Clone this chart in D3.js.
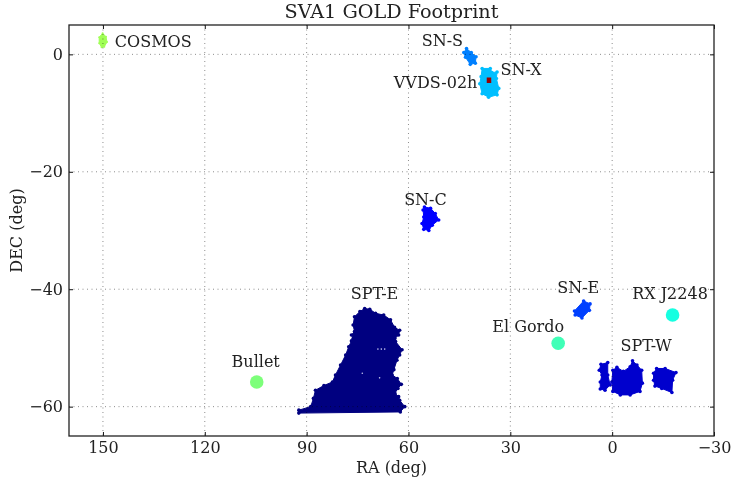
<!DOCTYPE html>
<html>
<head>
<meta charset="utf-8">
<script src="https://cdn.jsdelivr.net/npm/d3@7"></script>
<style>
html, body { margin: 0; padding: 0; background: #fff; }
svg { display: block; filter: blur(0.5px); }
text { font-family: "DejaVu Serif", serif; fill: #222; }
</style>
</head>
<body>
<script>
// field outlines, [RA, DEC] in degrees
const SPT_E = [[92.3,-60.6],[88.8,-60.0],[88.0,-58.6],[87.4,-57.2],[84.9,-56.4],[82.4,-55.8],[81.5,-54.6],[80.0,-52.9],[78.5,-51.2],[77.6,-49.8],[76.8,-48.8],[76.3,-48.4],[76.8,-47.8],[75.9,-47.2],[76.3,-46.1],[75.9,-44.7],[74.3,-43.8],[72.9,-43.3],[71.4,-43.4],[69.7,-44.1],[67.3,-44.4],[65.3,-45.2],[64.1,-46.5],[62.6,-47.0],[62.9,-47.8],[64.0,-48.4],[63.8,-48.9],[61.9,-50.3],[62.6,-51.2],[63.4,-52.1],[64.3,-53.7],[64.8,-54.6],[63.3,-55.2],[62.1,-56.2],[63.1,-56.9],[64.0,-57.7],[62.9,-58.3],[62.6,-58.9],[61.1,-60.0],[62.4,-60.9],[92.3,-61.1]];
const SPT_E_HOLES = [[69.0,-50.2],[68.0,-50.2],[67.0,-50.2],[73.6,-54.3],[68.5,-55.1]];
const SPT_W_A = [[3.8,-53.8],[3.3,-52.8],[1.3,-52.5],[1.3,-54.6],[0.6,-56.3],[2.1,-57.2],[3.5,-57.0],[3.5,-55.8],[3.0,-54.6]];
const SPT_W_B = [[-0.2,-53.8],[-1.4,-53.3],[-3.3,-54.0],[-5.3,-53.2],[-6.0,-52.2],[-7.3,-52.9],[-8.7,-53.8],[-8.9,-56.0],[-8.2,-57.4],[-5.3,-58.0],[-2.4,-58.0],[-0.2,-57.4],[0.1,-55.8]];
const SPT_W_C = [[-12.2,-54.3],[-13.1,-53.5],[-15.6,-53.5],[-18.8,-54.2],[-17.8,-55.5],[-17.6,-57.6],[-14.6,-56.9],[-12.6,-56.5],[-12.2,-55.5]];
const SN_C = [[55.3,-26.0],[53.5,-26.2],[52.1,-27.1],[51.1,-28.2],[53.0,-29.1],[54.0,-30.0],[55.5,-29.8],[56.0,-28.8],[55.5,-27.7],[55.7,-26.5]];
const SN_E = [[8.4,-42.0],[6.5,-42.5],[6.7,-43.6],[8.9,-44.9],[10.9,-44.4],[11.1,-43.7]];
const SN_S = [[42.9,1.0],[41.5,0.3],[40.1,-0.4],[40.3,-1.5],[41.8,-1.7],[43.2,-0.5],[43.7,0.3]];
const SN_X = [[38.3,-2.4],[35.9,-2.4],[35.4,-3.1],[33.9,-3.0],[34.1,-4.1],[33.4,-5.8],[33.9,-6.9],[36.4,-7.3],[38.3,-6.7],[39.0,-5.0],[38.6,-3.8]];
const COSMOS = [[150.1,3.6],[149.1,3.0],[148.8,2.1],[149.6,1.3],[150.4,1.2],[151.1,1.9],[151.1,2.9]];
const BULLET = [[104.7,-55.8]];
const EL_GORDO = [[15.9,-49.2]];
const RX_J2248 = [[-17.8,-44.4]];
const VVDS = [[36.3,-4.4]];

const FOOTPRINTS = [
    {shape: SPT_E, color: "#000080", bump: 1.8},
    {shape: SPT_W_A, color: "#0000cd", bump: 1.8},
    {shape: SPT_W_B, color: "#0000cd", bump: 1.8},
    {shape: SPT_W_C, color: "#0000cd", bump: 1.8},
    {shape: SN_C, color: "#0000ff", bump: 1.8},
    {shape: SN_E, color: "#0040ff", bump: 1.8},
    {shape: SN_S, color: "#0080ff", bump: 1.8},
    {shape: SN_X, color: "#00bfff", bump: 1.8},
    {shape: COSMOS, color: "#a0ff56", bump: 1}
];
const SPOTS = [
    {at: BULLET, color: "#7dff7a"},
    {at: EL_GORDO, color: "#40ffb7"},
    {at: RX_J2248, color: "#16ffe1"}
];

const RA_TICKS = [150, 120, 90, 60, 30, 0, -30];
const DEC_TICKS = [0, -20, -40, -60];

// label, RA, DEC, anchor
const LABELS = [
    ["COSMOS", 146.5, 1.3, "start"],
    ["SN-S", 50, 1.5, "middle"],
    ["SN-X", 32.9, -3.5, "start"],
    ["VVDS-02h", 39.7, -5.75, "end"],
    ["SN-C", 55, -25.7, "middle"],
    ["SPT-E", 70, -41.7, "middle"],
    ["SN-E", 10, -40.6, "middle"],
    ["RX J2248", -5.9, -41.7, "start"],
    ["El Gordo", 35.3, -47.3, "start"],
    ["SPT-W", -10, -50.5, "middle"],
    ["Bullet", 105, -53.2, "middle"]
];

const W = 731, H = 481;
const M = {left: 69, right: 714, top: 25, bottom: 436};

const SVG = d3.select("body").append("svg").attr("width", W).attr("height", H);
const x = d3.scaleLinear().domain([160, -30]).range([M.left, M.right]);
const y = d3.scaleLinear().domain([5, -65]).range([M.top, M.bottom]);
const fmt = d3.format("d");

let drawMarks = () => {
    let outline = d3.line().x(d => x(d[0])).y(d => y(d[1])).curve(d3.curveLinearClosed);
    let fields = SVG.append("g").selectAll("g")
    .data(FOOTPRINTS)
    .enter()
    .append("g")
    .attr("fill", d => d.color);

    fields.append("path")
    .attr("d", d => outline(d.shape))
    .attr("stroke", d => d.color)
    .attr("stroke-width", 1)
    .attr("stroke-linejoin", "round");

    // the survey edge is lumpy, one little disc per outline point
    fields.selectAll("circle")
    .data(d => d.shape.map(p => [p[0], p[1], d.bump]))
    .enter()
    .append("circle")
    .attr("cx", d => x(d[0]))
    .attr("cy", d => y(d[1]))
    .attr("r", d => d[2]);

    SVG.append("g").selectAll("circle")
    .data(SPOTS)
    .enter()
    .append("circle")
    .attr("cx", d => x(d.at[0][0]))
    .attr("cy", d => y(d.at[0][1]))
    .attr("r", 6.8)
    .attr("fill", d => d.color);

    SVG.append("g").selectAll("circle")
    .data(SPT_E_HOLES)
    .enter()
    .append("circle")
    .attr("cx", d => x(d[0]))
    .attr("cy", d => y(d[1]))
    .attr("r", 0.8)
    .attr("fill", "#c4c6ee");

    SVG.append("rect")
    .datum(VVDS[0])
    .attr("x", d => x(d[0]) - 2.2)
    .attr("y", d => y(d[1]) - 2.7)
    .attr("width", 4.5)
    .attr("height", 5.5)
    .attr("fill", "#990000");
}

let drawGrid = () => {
    let grid = SVG.append("g").attr("stroke", "#000").attr("stroke-width", 1)
    .attr("stroke-dasharray", "1,3.5").attr("opacity", 0.45);
    grid.selectAll(".vgrid").data(RA_TICKS.slice(0, -1)).enter().append("line")
    .attr("x1", d => x(d)).attr("x2", d => x(d))
    .attr("y1", M.top).attr("y2", M.bottom);
    grid.selectAll(".hgrid").data(DEC_TICKS).enter().append("line")
    .attr("x1", M.left).attr("x2", M.right)
    .attr("y1", d => y(d)).attr("y2", d => y(d));
}

let drawAxes = () => {
    let style = (g) => {
        g.select(".domain").remove();
        g.selectAll("line").attr("stroke", "#111");
        g.selectAll("text").style("font-family", '"DejaVu Serif", serif').style("font-size", "16px").attr("fill", "#222");
    };
    SVG.append("g").attr("transform", "translate(0," + M.bottom + ")")
    .call(d3.axisBottom(x).tickValues(RA_TICKS).tickFormat(fmt).tickSize(-4).tickPadding(6))
    .call(style);
    SVG.append("g").attr("transform", "translate(" + M.left + ",0)")
    .call(d3.axisLeft(y).tickValues(DEC_TICKS).tickFormat(fmt).tickSize(-4).tickPadding(6))
    .call(style);
    SVG.append("g").attr("transform", "translate(0," + M.top + ")")
    .call(d3.axisTop(x).tickValues(RA_TICKS).tickFormat("").tickSize(-4))
    .call(style);
    SVG.append("g").attr("transform", "translate(" + M.right + ",0)")
    .call(d3.axisRight(y).tickValues(DEC_TICKS).tickFormat("").tickSize(-4))
    .call(style);

    SVG.append("rect")
    .attr("x", M.left).attr("y", M.top)
    .attr("width", M.right - M.left).attr("height", M.bottom - M.top)
    .attr("fill", "none").attr("stroke", "#222").attr("stroke-width", 1.3);
}

let drawText = () => {
    SVG.append("g").selectAll("text")
    .data(LABELS)
    .enter()
    .append("text")
    .attr("x", d => x(d[1]))
    .attr("y", d => y(d[2]))
    .attr("text-anchor", d => d[3])
    .style("font-size", "16px")
    .text(d => d[0]);

    SVG.append("text").attr("x", (M.left + M.right) / 2).attr("y", 18)
    .attr("text-anchor", "middle").style("font-size", "19.2px").text("SVA1 GOLD Footprint");
    SVG.append("text").attr("x", (M.left + M.right) / 2).attr("y", 473)
    .attr("text-anchor", "middle").style("font-size", "16px").text("RA (deg)");
    SVG.append("text").attr("transform", "translate(22," + (M.top + M.bottom) / 2 + ") rotate(-90)")
    .attr("text-anchor", "middle").style("font-size", "16px").text("DEC (deg)");
}

drawMarks();
drawGrid();
drawAxes();
drawText();
</script>
</body>
</html>
